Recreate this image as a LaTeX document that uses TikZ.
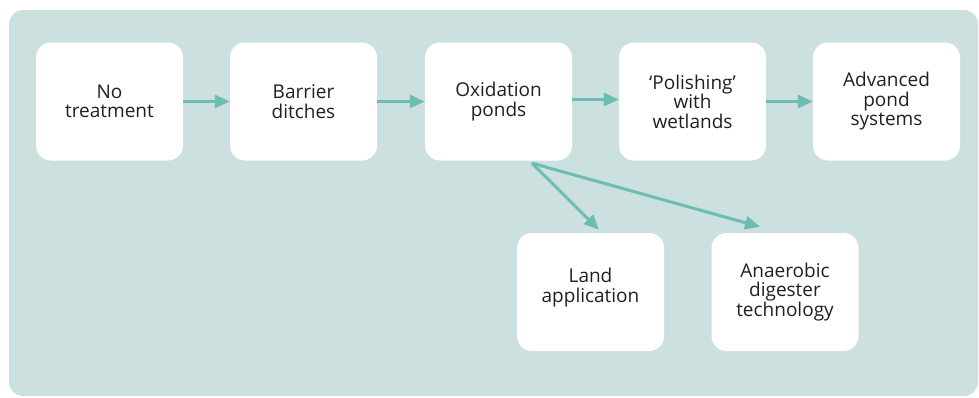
\documentclass[tikz,border=0pt]{standalone}
\usepackage{fontspec}
\setmainfont{Open Sans}
\usetikzlibrary{arrows.meta}
\definecolor{panel}{HTML}{CCE0DF}
\definecolor{arr}{HTML}{6DBDB3}
\definecolor{txt}{HTML}{231F20}
\tikzset{
  box/.style={rectangle, rounded corners=15pt, fill=white, minimum width=147pt, minimum height=118pt, inner sep=0pt, align=center, text=txt, font=\fontsize{19}{19.5}\selectfont},
  flow/.style={draw=arr, line width=3pt, -{Triangle[length=15pt,width=13pt]}}
}
\begin{document}
\begin{tikzpicture}[x=1pt,y=-1pt]
\useasboundingbox (0,0) rectangle (979,397);
\fill[panel, rounded corners=14pt] (9,10) rectangle (978,396);
\node[box] (no) at (109.5,101.5) {No\\treatment};
\node[box] (bar) at (303.5,101.5) {Barrier\\ditches};
\node[box] (ox) at (498.5,101.5) {Oxidation\\ponds};
\node[box] (pol) at (692.5,101.5) {‘Polishing’\\with\\wetlands};
\node[box] (adv) at (886.5,101.5) {Advanced\\pond\\systems};
\node[box] (land) at (590.5,292) {Land\\application\rule[-13pt]{0pt}{0pt}};
\node[box] (ana) at (785,292) {Anaerobic\\digester\\technology};
\draw[flow] (no.east) -- (bar.west);
\draw[flow] (bar.east) -- (ox.west);
\draw[flow] ([yshift=2pt]ox.east) -- ([yshift=2pt]pol.west);
\draw[flow] (pol.east) -- (adv.west);
\coordinate (split) at ([xshift=33.5pt,yshift=-2.5pt]ox.south);
\coordinate (t1) at ([xshift=8.5pt,yshift=3pt]land.north);
\coordinate (t2) at ([xshift=-25pt,yshift=6pt]ana.north);
\draw[flow] (split) -- (t1);
\draw[flow] (split) -- (t2);
\end{tikzpicture}
\end{document}
